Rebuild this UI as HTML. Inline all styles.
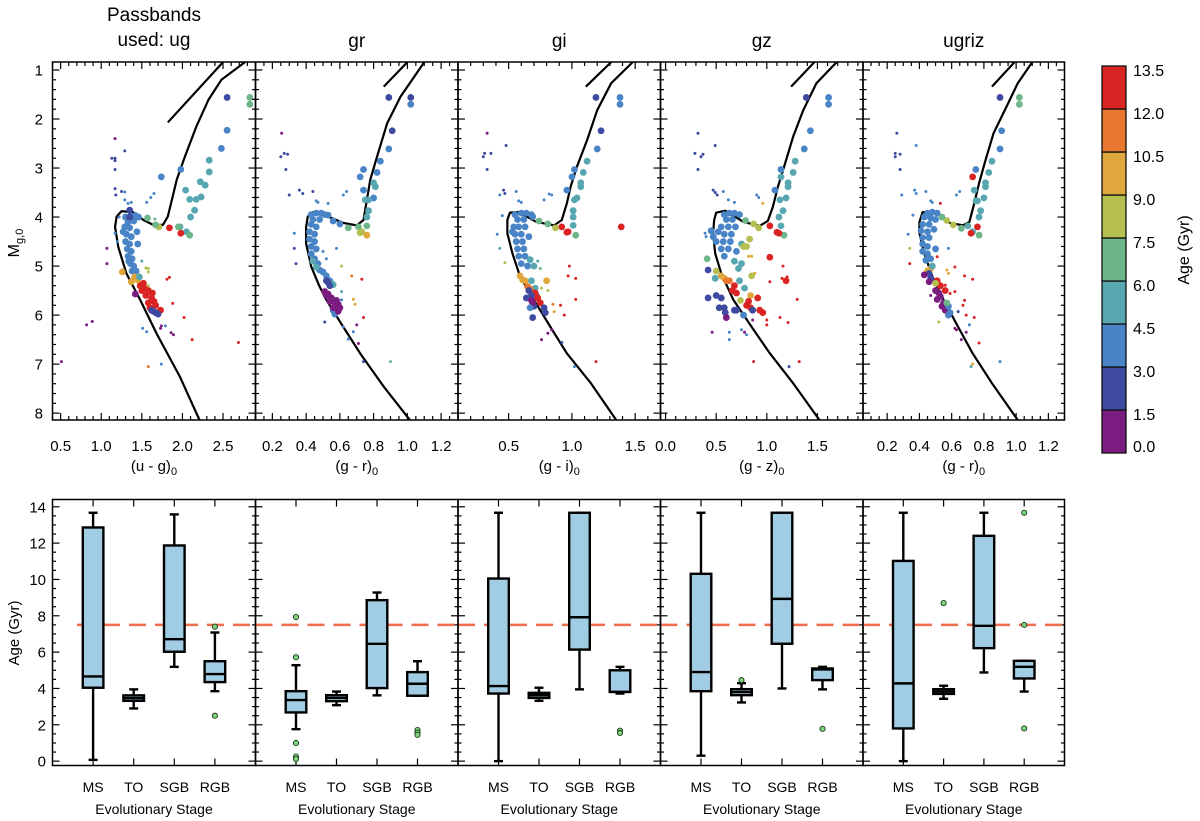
<!DOCTYPE html>
<html><head><meta charset="utf-8"><title>CMD ages</title>
<style>
html,body{margin:0;padding:0;background:#fff;}
svg{display:block;font-family:"Liberation Sans",Arial,sans-serif;}
</style></head>
<body>
<svg id="fig" width="1200" height="821" viewBox="0 0 1200 821" xmlns="http://www.w3.org/2000/svg">
<g id="top"></g>
<g id="bot"></g>
<g id="cbar"></g>
<text></text>
<text transform="translate(19,243) rotate(-90)" text-anchor="middle" font-size="16">M<tspan font-size="11" dy="4">g,0</tspan></text>
<text transform="translate(19,633) rotate(-90)" text-anchor="middle" font-size="15">Age (Gyr)</text>
<text transform="translate(1189,250) rotate(-90)" text-anchor="middle" font-size="16">Age (Gyr)</text>
</svg>
<script>
// ---------- data ----------
const panelTitles = [["Passbands","used: ug"],["gr"],["gi"],["gz"],["ugriz"]];
const xTitles = ["u - g","g - r","g - i","g - z","g - r"];
const xRanges = [[0.4,2.9],[0.1,1.3],[0.1,1.7],[-0.05,1.95],[0.05,1.30]];
const xMajor = [[0.5,1.0,1.5,2.0,2.5],[0.2,0.4,0.6,0.8,1.0,1.2],[0.5,1.0,1.5],[0.0,0.5,1.0,1.5],[0.2,0.4,0.6,0.8,1.0,1.2]];
const xMinorStep = [0.1,0.05,0.1,0.1,0.05];
const magRange = [0.837,8.14];
const magTicks = [1,2,3,4,5,6,7,8];
const ageBins = [0,1.5,3,4.5,6,7.5,9,10.5,12,13.5];
const binColors = ["#7b1c80","#3e4aa0","#4884c6","#58a6b0","#6db68a","#b4bf4f","#e0a73c","#e8772f","#da2323"];
const cbarLabels = ["13.5","12.0","10.5","9.0","7.5","6.0","4.5","3.0","1.5","0.0"];

const iso1 = [[2.21,8.14],[1.97,7.26],[1.68,6.37],[1.48,5.69],[1.31,5.15],[1.21,4.61],[1.17,4.2],[1.19,3.99],[1.25,3.88],[1.39,3.9],[1.52,4.06],[1.64,4.16],[1.76,4.16],[1.82,3.99],[1.87,3.65],[1.93,3.24],[2.03,2.77],[2.17,2.16],[2.32,1.61],[2.48,1.2],[2.77,0.84]];
const iso2 = [[1.015,8.14],[0.86,7.46],[0.72,6.78],[0.62,6.24],[0.52,5.69],[0.48,5.42],[0.43,5.01],[0.40,4.54],[0.40,4.2],[0.41,3.99],[0.44,3.9],[0.53,3.99],[0.62,4.12],[0.70,4.17],[0.74,4.06],[0.76,3.65],[0.78,3.24],[0.82,2.77],[0.88,2.09],[0.96,1.54],[1.04,1.14],[1.10,0.84]];
const iso3 = [[1.35,8.14],[1.15,7.39],[0.96,6.78],[0.83,6.24],[0.70,5.69],[0.59,5.21],[0.53,4.74],[0.49,4.33],[0.49,4.06],[0.51,3.91],[0.58,3.9],[0.72,4.1],[0.86,4.17],[0.92,4.06],[0.96,3.72],[0.99,3.38],[1.04,2.97],[1.12,2.43],[1.20,1.82],[1.31,1.27],[1.48,0.84]];
const iso4 = [[1.52,8.14],[1.26,7.39],[1.03,6.78],[0.85,6.24],[0.67,5.69],[0.55,5.15],[0.49,4.74],[0.47,4.33],[0.48,4.06],[0.50,3.91],[0.59,3.87],[0.77,4.1],[0.93,4.18],[1.01,4.08],[1.06,3.79],[1.11,3.38],[1.18,2.91],[1.26,2.36],[1.36,1.82],[1.49,1.27],[1.69,0.84]];
const iso5 = [[1.01,8.14],[0.85,7.39],[0.73,6.78],[0.64,6.24],[0.55,5.69],[0.48,5.21],[0.43,4.74],[0.40,4.33],[0.40,4.1],[0.42,3.9],[0.50,3.91],[0.59,4.12],[0.67,4.17],[0.71,4.1],[0.74,3.72],[0.77,3.31],[0.81,2.84],[0.86,2.29],[0.94,1.75],[1.01,1.27],[1.10,0.84]];
const agb1 = [[1.82,2.07],[2.50,0.84]];
const agb2 = [[0.86,1.34],[1.00,0.84]];
const agb3 = [[1.11,1.34],[1.31,0.84]];
const agb4 = [[1.24,1.34],[1.47,0.84]];
const agb5 = [[0.85,1.34],[0.99,0.84]];

// stars: [colour index, Mg, age (Gyr), big?]
const stars1 = [[2.55,1.56,2.2,1],[2.83,1.56,6.8,1],[2.83,1.70,6.8,1],[2.55,2.23,3.8,1],[2.48,2.60,3.8,1],[2.33,2.84,5.2,1],[2.33,3.08,5.2,1],[2.22,3.28,5.2,1],[2.28,3.35,5.2,1],[2.04,3.45,5.2,1],[2.09,3.64,5.2,1],[2.17,3.64,5.2,1],[2.23,3.59,5.2,1],[2.15,3.86,5.2,1],[2.10,4.0,5.2,1],[1.98,3.03,3.8,1],[1.74,3.18,3.8,1],[2.05,4.3,5.2,1],[2.09,4.37,6.8,1],[1.97,4.2,5.2,1],[1.95,4.2,6.8,1],[1.84,4.22,12.8,1],[1.98,4.33,12.8,1],[1.71,4.2,8.2,1],[1.67,4.16,6.8,1],[1.57,4.02,6.8,1],
[1.30,4.0,3.8,1],[1.36,3.98,3.8,1],[1.42,3.97,3.8,1],[1.46,4.0,3.8,1],[1.33,4.1,3.8,1],[1.40,4.08,3.8,1],[1.29,4.2,3.8,1],[1.35,4.22,3.8,1],[1.31,4.35,3.8,1],[1.37,4.4,3.8,1],[1.30,4.5,3.8,1],[1.35,4.55,3.8,1],[1.32,4.65,3.8,1],[1.37,4.7,3.8,1],[1.33,4.8,3.8,1],[1.38,4.85,3.8,1],[1.36,4.95,3.8,1],[1.40,5.0,3.8,1],[1.38,5.1,3.8,1],[1.43,5.1,3.8,1],[1.45,4.55,3.8,1],[1.44,4.3,3.8,1],[1.27,4.3,3.8,1],[1.34,4.9,3.8,1],[1.35,3.86,2.2,1],[1.35,4.0,2.2,1],
[1.26,5.12,9.8,1],[1.41,5.22,9.8,1],[1.37,5.32,9.8,1],[1.45,5.28,9.8,1],[1.47,5.22,5.2,1],
[1.48,5.4,12.8,1],[1.53,5.45,12.8,1],[1.58,5.5,12.8,1],[1.50,5.5,12.8,1],[1.55,5.6,12.8,1],[1.62,5.65,12.8,1],[1.58,5.75,12.8,1],[1.65,5.72,12.8,1],[1.60,5.85,12.8,1],[1.67,5.8,12.8,1],[1.73,5.9,12.8,1],[1.52,5.35,12.8,1],[1.63,5.55,12.8,1],
[1.62,5.9,2.2,1],[1.67,5.95,2.2,1],[1.70,5.98,2.2,1],[1.64,5.92,2.2,1],[1.42,5.57,0.7,1],
[1.17,2.4,0.7,0],[1.29,2.65,2.2,0],[1.13,2.8,2.2,0],[1.17,2.8,2.2,0],[1.17,2.85,2.2,0],[1.17,3.03,2.2,0],[1.17,3.42,2.2,0],[1.18,3.55,2.2,0],[1.25,3.48,2.2,0],[1.29,3.49,3.8,0],[1.29,3.65,3.8,0],[1.33,3.72,3.8,0],[1.37,3.7,3.8,0],[1.56,3.7,3.8,0],[1.61,3.6,3.8,0],[1.65,3.52,3.8,0],[1.66,4.04,6.8,0],[1.07,4.64,0.7,0],[1.07,4.95,0.7,0],[1.50,4.9,5.2,0],[1.55,5.04,8.2,0],[1.58,5.05,8.2,0],[1.58,5.12,8.2,0],[1.58,5.4,8.2,0],[1.84,5.23,12.8,0],[1.81,5.27,12.8,0],[1.88,5.76,12.8,0],[2.02,6.05,12.8,0],[2.12,6.5,12.8,0],[2.69,6.56,12.8,0],[1.74,6.22,0.7,0],[1.73,6.27,0.7,0],[1.86,6.36,0.7,0],[1.89,6.4,0.7,0],[1.79,6.22,3.8,0],[1.51,6.27,3.8,0],[1.56,6.34,3.8,0],[1.58,7.05,11.2,0],[1.74,7.0,3.8,0],[0.82,6.2,0.7,0],[0.89,6.13,0.7,0],[0.51,6.95,0.7,0],[1.17,4.33,3.8,0],[1.2,4.5,3.8,0],[1.22,4.0,3.8,0]];
const stars2 = [[0.89,1.56,2.2,1],[1.02,1.56,2.2,1],[1.02,1.70,3.8,1],[0.91,2.24,2.2,1],[0.89,2.61,3.8,1],[0.84,2.86,3.8,1],[0.82,3.09,3.8,1],[0.74,3.03,3.8,1],[0.72,3.18,3.8,1],[0.74,3.45,3.8,1],[0.80,3.61,3.8,1],[0.80,3.30,5.2,1],[0.81,3.38,5.2,1],[0.75,3.65,5.2,1],[0.77,3.65,5.2,1],[0.77,3.87,5.2,1],[0.76,4.0,5.2,1],[0.76,4.18,6.8,1],[0.71,4.2,6.8,1],[0.65,4.22,6.8,1],[0.72,4.32,8.2,1],[0.73,4.30,8.2,1],[0.76,4.37,9.8,1],[0.60,4.14,3.8,1],[0.56,4.08,3.8,1],[0.53,3.96,3.8,1],
[0.43,3.95,3.8,1],[0.46,3.92,3.8,1],[0.49,3.92,3.8,1],[0.51,3.95,3.8,1],[0.44,4.05,3.8,1],[0.48,4.05,3.8,1],[0.43,4.15,3.8,1],[0.46,4.2,3.8,1],[0.42,4.3,3.8,1],[0.45,4.35,3.8,1],[0.42,4.45,3.8,1],[0.45,4.5,3.8,1],[0.43,4.6,3.8,1],[0.46,4.65,3.8,1],[0.43,4.75,3.8,1],[0.45,4.85,3.8,1],[0.47,4.95,3.8,1],[0.48,5.08,3.8,1],[0.50,5.12,3.8,1],[0.52,5.2,3.8,1],[0.54,5.3,3.8,1],[0.57,5.98,3.8,1],[0.56,5.9,3.8,1],
[0.44,4.9,5.2,1],[0.46,5.02,5.2,1],[0.55,5.35,5.2,1],[0.56,5.38,5.2,1],[0.52,5.3,2.2,1],[0.54,5.4,2.2,1],[0.53,5.33,2.2,1],
[0.51,5.52,0.7,1],[0.53,5.57,0.7,1],[0.55,5.65,0.7,1],[0.52,5.6,0.7,1],[0.54,5.72,0.7,1],[0.57,5.75,0.7,1],[0.59,5.78,0.7,1],[0.60,5.85,0.7,1],[0.59,5.92,0.7,1],[0.56,5.85,0.7,1],[0.58,5.7,0.7,1],
[0.255,2.29,0.7,0],[0.27,2.7,2.2,0],[0.29,2.72,2.2,0],[0.25,2.77,2.2,0],[0.28,3.03,2.2,0],[0.30,3.55,2.2,0],[0.36,3.45,2.2,0],[0.38,3.52,2.2,0],[0.44,3.48,2.2,0],[0.46,3.67,3.8,0],[0.47,3.7,3.8,0],[0.53,3.72,3.8,0],[0.62,3.55,3.8,0],[0.64,3.48,3.8,0],[0.33,4.33,3.8,0],[0.33,4.64,2.2,0],[0.34,4.95,2.2,0],[0.58,4.64,3.8,0],[0.61,5.0,8.2,0],[0.67,5.2,11.2,0],[0.73,5.27,12.8,0],[0.61,5.52,5.2,0],[0.68,5.68,9.8,0],[0.69,5.78,9.8,0],[0.61,5.69,3.8,0],[0.74,6.05,12.8,0],[0.70,6.2,0.7,0],[0.71,6.58,0.7,0],[0.68,6.34,3.8,0],[0.62,6.24,3.8,0],[0.51,6.14,2.2,0],[0.65,6.49,3.8,0],[0.74,6.95,2.2,0],[0.90,6.95,6.8,0],[0.50,4.7,3.8,0],[0.52,4.85,3.8,0]];
const stars3 = [[1.19,1.56,2.2,1],[1.38,1.56,3.8,1],[1.38,1.70,3.8,1],[1.23,2.24,2.2,1],[1.20,2.61,3.8,1],[1.12,2.86,5.2,1],[1.09,3.09,5.2,1],[1.02,3.03,3.8,1],[1.0,3.18,3.8,1],[1.07,3.3,5.2,1],[1.07,3.38,5.2,1],[0.96,3.45,3.8,1],[1.04,3.61,5.2,1],[1.02,3.65,5.2,1],[1.01,3.87,5.2,1],[1.01,4.0,5.2,1],[1.01,4.17,5.2,1],[1.03,4.37,6.8,1],[0.92,4.2,12.8,1],[0.96,4.31,12.8,1],[0.97,4.3,12.8,1],[1.39,4.2,12.8,1],[0.87,4.22,8.2,1],[0.81,4.14,6.8,1],[0.74,4.08,6.8,1],[0.69,3.99,3.8,1],
[0.55,3.95,3.8,1],[0.60,3.92,3.8,1],[0.64,3.92,3.8,1],[0.68,3.95,3.8,1],[0.57,4.05,3.8,1],[0.62,4.05,3.8,1],[0.54,4.2,3.8,1],[0.58,4.2,3.8,1],[0.63,4.2,3.8,1],[0.55,4.35,3.8,1],[0.60,4.35,3.8,1],[0.56,4.5,3.8,1],[0.61,4.5,3.8,1],[0.57,4.65,3.8,1],[0.62,4.65,3.8,1],[0.58,4.8,3.8,1],[0.63,4.8,3.8,1],[0.60,4.95,3.8,1],[0.65,5.0,3.8,1],[0.53,4.3,3.8,1],[0.66,4.4,3.8,1],
[0.67,4.87,5.2,1],[0.70,5.0,5.2,1],[0.68,5.3,5.2,1],[0.71,5.45,5.2,1],[0.72,5.6,5.2,1],
[0.59,5.2,9.8,1],[0.61,5.28,9.8,1],[0.63,5.3,9.8,1],[0.65,5.42,11.2,1],[0.67,5.47,11.2,1],[0.80,5.3,9.8,1],
[0.71,5.55,12.8,1],[0.73,5.65,12.8,1],[0.75,5.75,12.8,1],[0.66,5.5,2.2,1],[0.68,5.6,2.2,1],[0.70,5.82,2.2,1],[0.78,5.85,2.2,1],[0.79,5.95,2.2,1],[0.64,5.65,2.2,1],[0.68,5.7,0.7,1],[0.69,5.75,0.7,1],[0.67,5.85,3.8,1],[0.69,6.05,2.2,1],
[0.33,2.29,0.7,0],[0.48,2.54,2.2,0],[0.31,2.7,2.2,0],[0.36,2.7,2.2,0],[0.30,2.77,2.2,0],[0.33,3.03,2.2,0],[0.46,3.45,2.2,0],[0.47,3.52,2.2,0],[0.43,3.55,3.8,0],[0.56,3.48,3.8,0],[0.58,3.67,3.8,0],[0.60,3.7,3.8,0],[0.78,3.65,3.8,0],[0.82,3.53,3.8,0],[0.84,3.55,3.8,0],[0.45,3.97,3.8,0],[0.41,4.35,3.8,0],[0.43,4.64,5.2,0],[0.47,4.93,8.2,0],[0.98,5.0,12.8,0],[0.97,5.2,12.8,0],[1.03,5.25,12.8,0],[1.03,5.68,12.8,0],[0.91,5.8,12.8,0],[0.94,6.0,12.8,0],[0.86,5.93,9.8,0],[0.85,5.78,11.2,0],[0.81,5.5,8.2,0],[0.76,5.45,8.2,0],[0.72,5.6,9.8,0],[0.84,6.3,0.7,0],[0.81,6.37,0.7,0],[0.76,6.5,0.7,0],[0.92,6.56,2.2,0],[1.02,7.05,3.8,0],[1.19,6.95,12.8,0],[0.73,4.9,5.2,0],[0.75,5.05,6.8,0]];
const stars4 = [[1.39,1.56,2.2,1],[1.61,1.56,3.8,1],[1.61,1.70,3.8,1],[1.43,2.24,3.8,1],[1.37,2.61,3.8,1],[1.28,2.86,5.2,1],[1.26,3.09,5.2,1],[1.14,3.03,3.8,1],[1.14,3.18,5.2,1],[1.21,3.3,5.2,1],[1.21,3.38,5.2,1],[1.08,3.45,3.8,1],[1.19,3.61,5.2,1],[1.13,3.65,5.2,1],[1.16,3.87,5.2,1],[1.12,4.0,5.2,1],[1.14,4.18,5.2,1],[1.17,4.37,6.8,1],[1.03,4.18,12.8,1],[1.12,4.33,12.8,1],[1.10,4.31,12.8,1],[0.92,4.22,8.2,1],[0.87,4.14,8.2,1],[0.79,4.07,6.8,1],
[0.58,3.95,3.8,1],[0.63,3.92,3.8,1],[0.68,3.92,3.8,1],[0.73,3.95,3.8,1],[0.60,4.05,3.8,1],[0.66,4.05,3.8,1],[0.55,4.2,3.8,1],[0.62,4.2,3.8,1],[0.69,4.2,3.8,1],[0.52,4.3,3.8,1],[0.58,4.35,3.8,1],[0.65,4.35,3.8,1],[0.50,4.5,3.8,1],[0.57,4.5,3.8,1],[0.64,4.5,3.8,1],[0.55,4.65,3.8,1],[0.62,4.65,3.8,1],[0.58,4.8,3.8,1],[0.70,4.7,3.8,1],[0.45,4.28,3.8,1],[0.47,4.4,3.8,1],
[0.68,4.9,5.2,1],[0.75,4.95,5.2,1],[0.72,5.05,5.2,1],[0.73,5.3,5.2,1],[0.78,5.45,5.2,1],[0.75,4.55,5.2,1],[0.49,5.25,5.2,1],
[0.77,4.6,8.2,1],[0.80,4.6,8.2,1],[0.83,4.45,8.2,1],[0.74,5.7,8.2,1],[0.85,5.2,8.2,1],[0.41,4.85,6.8,1],[0.50,5.1,8.2,1],
[0.55,5.2,9.8,1],[0.58,5.25,9.8,1],[0.60,5.3,11.2,1],[0.63,5.3,11.2,1],[0.84,5.6,9.8,1],
[0.66,5.5,12.8,1],[0.70,5.55,12.8,1],[0.68,5.4,12.8,1],[0.80,5.8,12.8,1],[0.82,5.72,12.8,1],[0.91,5.65,12.8,1],[0.93,5.9,12.8,1],[0.96,5.95,12.8,1],[1.03,4.82,12.8,1],[1.19,5.3,12.8,1],[0.84,5.85,12.8,1],
[0.42,5.08,2.2,1],[0.42,5.65,2.2,1],[0.50,5.6,2.2,1],[0.55,5.65,2.2,1],[0.53,5.85,2.2,1],[0.58,5.85,2.2,1],[0.70,5.9,2.2,1],[0.86,5.9,2.2,1],[0.59,5.95,2.2,1],[0.68,5.9,2.2,1],[0.60,6.05,0.7,1],[0.77,6.0,3.8,1],
[0.32,2.29,2.2,0],[0.49,2.54,2.2,0],[0.29,2.7,2.2,0],[0.37,2.72,2.2,0],[0.35,2.77,2.2,0],[0.32,3.03,2.2,0],[0.47,3.45,2.2,0],[0.49,3.5,2.2,0],[0.51,3.55,2.2,0],[0.57,3.48,3.8,0],[0.62,3.65,3.8,0],[0.68,3.7,3.8,0],[0.90,3.55,3.8,0],[0.92,3.6,3.8,0],[0.96,3.72,9.8,0],[0.39,4.33,3.8,0],[0.40,4.4,3.8,0],[0.82,4.8,9.8,0],[0.85,4.8,9.8,0],[1.16,5.0,12.8,0],[1.15,5.25,12.8,0],[1.20,5.22,12.8,0],[1.03,5.32,12.8,0],[0.88,5.15,9.8,0],[1.30,5.68,12.8,0],[1.13,6.05,12.8,0],[1.0,6.1,12.8,0],[1.0,6.2,12.8,0],[1.21,6.15,12.8,0],[0.86,6.1,0.7,0],[0.78,6.35,0.7,0],[0.46,6.35,0.7,0],[0.63,6.35,3.8,0],[0.63,6.5,3.8,0],[0.75,6.3,3.8,0],[0.80,6.4,3.8,0],[0.87,6.95,12.8,0],[1.22,7.05,2.2,0],[1.32,6.95,12.8,0]];
const stars5 = [[0.90,1.56,2.2,1],[1.02,1.56,6.8,1],[1.02,1.70,6.8,1],[0.91,2.24,3.8,1],[0.90,2.61,3.8,1],[0.85,2.86,5.2,1],[0.83,3.09,5.2,1],[0.75,3.03,3.8,1],[0.73,3.18,12.8,1],[0.81,3.3,5.2,1],[0.81,3.38,5.2,1],[0.74,3.45,5.2,1],[0.80,3.61,5.2,1],[0.75,3.67,5.2,1],[0.76,3.67,5.2,1],[0.78,3.87,5.2,1],[0.77,4.0,5.2,1],[0.76,4.2,12.8,1],[0.77,4.37,6.8,1],[0.73,4.3,5.2,1],[0.72,4.33,12.8,1],[0.70,4.18,5.2,1],[0.66,4.23,6.8,1],[0.61,4.16,8.2,1],[0.57,4.07,8.2,1],[0.54,4.0,6.8,1],
[0.45,3.92,3.8,1],[0.48,3.90,3.8,1],[0.51,3.92,3.8,1],[0.43,4.0,3.8,1],[0.47,4.02,3.8,1],[0.50,4.05,3.8,1],[0.42,4.15,3.8,1],[0.46,4.15,3.8,1],[0.41,4.28,3.8,1],[0.45,4.3,3.8,1],[0.49,4.25,3.8,1],[0.42,4.42,3.8,1],[0.46,4.42,3.8,1],[0.42,4.55,3.8,1],[0.45,4.6,3.8,1],[0.42,4.7,3.8,1],[0.45,4.75,3.8,1],[0.47,4.85,3.8,1],[0.50,4.65,3.8,1],[0.44,4.88,3.8,1],
[0.45,5.1,9.8,1],[0.47,5.05,9.8,1],[0.46,5.15,2.2,1],[0.47,5.25,2.2,1],[0.43,5.18,0.7,1],[0.46,5.32,0.7,1],[0.50,5.5,0.7,1],[0.52,5.55,0.7,1],[0.53,5.62,0.7,1],[0.51,5.68,0.7,1],[0.55,5.75,0.7,1],[0.57,5.85,0.7,1],[0.54,5.82,0.7,1],[0.56,5.9,0.7,1],[0.51,5.3,12.8,1],[0.53,5.4,12.8,1],[0.56,5.5,12.8,1],[0.50,5.35,8.2,1],[0.48,5.0,5.2,1],[0.58,5.82,3.8,1],[0.59,5.95,3.8,1],[0.58,6.0,3.8,1],[0.57,5.75,6.8,1],
[0.26,2.29,2.2,0],[0.38,2.54,3.8,0],[0.25,2.7,2.2,0],[0.28,2.72,2.2,0],[0.25,2.77,2.2,0],[0.28,3.03,2.2,0],[0.29,3.55,3.8,0],[0.37,3.45,3.8,0],[0.38,3.52,3.8,0],[0.44,3.48,3.8,0],[0.47,3.67,3.8,0],[0.48,3.7,3.8,0],[0.53,3.72,12.8,0],[0.63,3.55,3.8,0],[0.65,3.48,3.8,0],[0.33,4.35,3.8,0],[0.36,3.96,3.8,0],[0.34,4.64,8.2,0],[0.34,4.95,12.8,0],[0.49,4.64,8.2,0],[0.58,4.64,3.8,0],[0.51,4.81,12.8,0],[0.57,5.08,9.8,0],[0.58,5.15,9.8,0],[0.62,5.02,12.8,0],[0.68,5.2,12.8,0],[0.73,5.27,12.8,0],[0.56,5.39,12.8,0],[0.62,5.52,12.8,0],[0.59,5.56,12.8,0],[0.68,5.7,12.8,0],[0.67,5.8,12.8,0],[0.69,6.0,12.8,0],[0.74,6.05,12.8,0],[0.64,5.93,2.2,0],[0.71,6.2,3.8,0],[0.69,6.35,0.7,0],[0.66,6.5,0.7,0],[0.62,6.27,0.7,0],[0.63,6.3,0.7,0],[0.52,6.14,8.2,0],[0.47,5.6,0.7,0],[0.77,6.57,12.8,0],[0.73,7.0,9.8,0],[0.72,7.05,5.2,0],[0.90,6.95,3.8,0]];

const isochrones = [iso1,iso2,iso3,iso4,iso5];
const agbs = [agb1,agb2,agb3,agb4,agb5];
const starSets = [stars1,stars2,stars3,stars4,stars5];

// box plots: [low, q1, median, q3, high] per stage
const stages = ["MS","TO","SGB","RGB"];
const box1 = [[0.07,4.04,4.66,12.86,13.67],[2.9,3.32,3.47,3.62,3.95],[5.19,6.02,6.71,11.87,13.58],[3.85,4.35,4.79,5.50,7.08]];
const box2 = [[1.76,2.68,3.36,3.85,5.28],[3.08,3.30,3.48,3.63,3.83],[3.62,4.02,6.46,8.86,9.28],[3.60,3.60,4.26,4.90,5.50]];
const box3 = [[0.0,3.72,4.13,10.05,13.67],[3.32,3.48,3.63,3.76,4.04],[3.95,6.14,7.92,13.67,13.67],[3.72,3.81,3.81,5.0,5.19]];
const box4 = [[0.3,3.85,4.90,10.31,13.67],[3.23,3.63,3.80,3.96,4.29],[4.0,6.46,8.93,13.67,13.67],[3.95,4.46,5.05,5.10,5.19]];
const box5 = [[0.0,1.80,4.28,11.02,13.67],[3.43,3.70,3.83,3.96,4.15],[4.88,6.22,7.45,12.4,13.67],[3.83,4.55,5.19,5.52,5.52]];
const out1 = [[4,7.4],[4,2.5]];
const out2 = [[1,7.93],[1,5.72],[1,1.0],[1,0.25],[1,0.12],[4,1.71],[4,1.57],[4,1.45]];
const out3 = [[4,1.68],[4,1.55]];
const out4 = [[2,4.46],[4,1.78]];
const out5 = [[2,8.7],[4,13.67],[4,7.5],[4,1.8]];
const boxSets = [box1,box2,box3,box4,box5];
const outSets = [out1,out2,out3,out4,out5];
const ageRange = [-0.24,14.4];
const ageTicks = [0,2,4,6,8,10,12,14];
const refAge = 7.5;

// ---------- layout ----------
const NS = "http://www.w3.org/2000/svg";
const edges = [52.5,255.5,458,660.5,863,1064.5];
const topY = [62,420], botY = [499.5,765.5];
function el(tag, attrs, parent){const e=document.createElementNS(NS,tag);for(const k in attrs)e.setAttribute(k,attrs[k]);parent.appendChild(e);return e;}
function colorFor(age){for(let i=0;i<9;i++){if(age<ageBins[i+1])return binColors[i];}return binColors[8];}
const gTop=document.getElementById('top'), gBot=document.getElementById('bot'), gC=document.getElementById('cbar');

for(let p=0;p<5;p++){
  const x0=edges[p], x1=edges[p+1], xr=xRanges[p];
  const sx=v=>x0+(v-xr[0])/(xr[1]-xr[0])*(x1-x0);
  const sy=m=>topY[0]+(m-magRange[0])/(magRange[1]-magRange[0])*(topY[1]-topY[0]);
  const g=el('g',{},gTop);
  
  
  const cp=el('clipPath',{id:'cp'+p},g); el('rect',{x:x0,y:topY[0],width:x1-x0,height:topY[1]-topY[0]},cp);
  // isochrone
  const iso=isochrones[p];
  const pl=el('polyline',{points:iso.map(d=>sx(d[0])+','+sy(d[1])).join(' '),fill:'none',stroke:'#000','stroke-width':2.2,'stroke-linejoin':'round','clip-path':'url(#cp'+p+')'},g);
  
  
  const ag=agbs[p];
  const al=el('polyline',{points:ag.map(d=>sx(d[0])+','+sy(d[1])).join(' '),fill:'none',stroke:'#000','stroke-width':2.2,'clip-path':'url(#cp'+p+')'},g);
  
  
  // stars: small first then big
  const st=starSets[p].slice().sort((a,b)=>a[3]-b[3]);
  st.forEach(s=>{
    const c=el('circle',{cx:sx(s[0]),cy:sy(s[1]),r:s[3]?3.4:1.5,fill:colorFor(s[2]),'clip-path':'url(#cp'+p+')'},g);
    
    
  });
  // frame
  el('rect',{x:x0,y:topY[0],width:x1-x0,height:topY[1]-topY[0],fill:'none',stroke:'#000','stroke-width':1.5},g);
  // x ticks
  const step=xMinorStep[p];
  for(let v=Math.ceil(xr[0]/step-1e-6)*step; v<=xr[1]+1e-9; v+=step){
    const X=sx(v); const maj=xMajor[p].some(m=>Math.abs(m-v)<1e-6); const L=maj?7:4;
    el('line',{x1:X,x2:X,y1:topY[1],y2:topY[1]-L,stroke:'#000','stroke-width':1.2},g);
    el('line',{x1:X,x2:X,y1:topY[0],y2:topY[0]+L,stroke:'#000','stroke-width':1.2},g);
  }
  xMajor[p].forEach(v=>{const t=el('text',{x:sx(v),y:451,'text-anchor':'middle','font-size':15},g);t.textContent=v.toFixed(1);
    
    });
  // y ticks
  for(let m=1;m<=8.001;m+=0.2){
    const Y=sy(m); const maj=Math.abs(m-Math.round(m))<1e-6; const L=maj?7:3.5;
    el('line',{x1:x0,x2:x0+L,y1:Y,y2:Y,stroke:'#000','stroke-width':1.2},g);
    el('line',{x1:x1,x2:x1-L,y1:Y,y2:Y,stroke:'#000','stroke-width':1.2},g);
  }
  if(p===0){magTicks.forEach(m=>{const t=el('text',{x:43,y:sy(m)+5.5,'text-anchor':'end','font-size':15},g);t.textContent=m;
    
    });}
  // x title
  const xt=el('text',{x:(x0+x1)/2,y:471,'text-anchor':'middle','font-size':15},g);
  
  
  xt.textContent='('+xTitles[p]+')';
  const sub=el('tspan',{'font-size':11,dy:4},xt); sub.textContent='0';
  // title
  const tl=panelTitles[p];
  tl.forEach((s,i)=>{const t=el('text',{x:(x0+x1)/2,y:(tl.length===2?(i===0?21:46):47),'text-anchor':'middle','font-size':19},g);t.textContent=s;
    
    });

  // ---------- bottom box panel ----------
  const gb=el('g',{},gBot);
  
  
  const bx=c=>x0+c/5*(x1-x0);
  const by=a=>botY[1]-(a-ageRange[0])/(ageRange[1]-ageRange[0])*(botY[1]-botY[0]);
  // ticks
  for(let a=0;a<=14.01;a+=0.5){
    const Y=by(a); const maj=Math.abs(a/2-Math.round(a/2))<1e-6; const L=maj?7:3.5;
    el('line',{x1:x0,x2:x0+L,y1:Y,y2:Y,stroke:'#000','stroke-width':1.2},gb);
    el('line',{x1:x1,x2:x1-L,y1:Y,y2:Y,stroke:'#000','stroke-width':1.2},gb);
  }
  stages.forEach((s,i)=>{const X=bx(i+1);
    el('line',{x1:X,x2:X,y1:botY[1],y2:botY[1]-7,stroke:'#000','stroke-width':1.2},gb);
    el('line',{x1:X,x2:X,y1:botY[0],y2:botY[0]+7,stroke:'#000','stroke-width':1.2},gb);
    const t=el('text',{x:X,y:792,'text-anchor':'middle','font-size':14},gb);t.textContent=s;
    
    
  });
  const et=el('text',{x:(x0+x1)/2,y:814,'text-anchor':'middle','font-size':14},gb);et.textContent='Evolutionary Stage';
  
  
  if(p===0){ageTicks.forEach(a=>{const t=el('text',{x:46,y:by(a)+5.5,'text-anchor':'end','font-size':15},gb);t.textContent=a;
    
    });}
  // reference line
  const rl=el('line',{x1:Math.max(x0,77),x2:x1,y1:by(refAge),y2:by(refAge),stroke:'#f06d4f','stroke-width':2.5,'stroke-dasharray':'17 9'},gb);
  
  
  boxSets[p].forEach((b,i)=>{
    const X=bx(i+1), hw=10.3, cw=4.5;
    const gg=el('g',{stroke:'#000','stroke-width':2.4,fill:'none'},gb);
    
    
    el('line',{x1:X,x2:X,y1:by(b[0]),y2:by(b[1])},gg);
    el('line',{x1:X,x2:X,y1:by(b[3]),y2:by(b[4])},gg);
    el('line',{x1:X-cw,x2:X+cw,y1:by(b[0]),y2:by(b[0])},gg);
    el('line',{x1:X-cw,x2:X+cw,y1:by(b[4]),y2:by(b[4])},gg);
    el('rect',{x:X-hw,y:by(b[3]),width:2*hw,height:Math.max(1,by(b[1])-by(b[3])),fill:'#a0cde3'},gg);
    el('line',{x1:X-hw,x2:X+hw,y1:by(b[2]),y2:by(b[2])},gg);
  });
  outSets[p].forEach(o=>{
    const c=el('circle',{cx:bx(o[0]),cy:by(o[1]),r:2.6,fill:'#7fd37a',stroke:'#1a3a1a','stroke-width':0.9},gb);
    
    
  });
  el('rect',{x:x0,y:botY[0],width:x1-x0,height:botY[1]-botY[0],fill:'none',stroke:'#000','stroke-width':1.5},gb);
}

// ---------- colorbar ----------
const cb={x:1102,w:24,y0:66,y1:453};
for(let i=0;i<9;i++){
  const h=(cb.y1-cb.y0)/9;
  const r=el('rect',{x:cb.x,y:cb.y1-(i+1)*h,width:cb.w,height:h,fill:binColors[i],stroke:'#111','stroke-width':1.3},gC);
  
  
}
cbarLabels.forEach((s,i)=>{
  const h=(cb.y1-cb.y0)/9; let y=cb.y0+i*h+10; if(i===9)y=cb.y1-1;
  const t=el('text',{x:1133,y:y,'font-size':16},gC);t.textContent=s;
  
  
});
</script>
</body></html>
